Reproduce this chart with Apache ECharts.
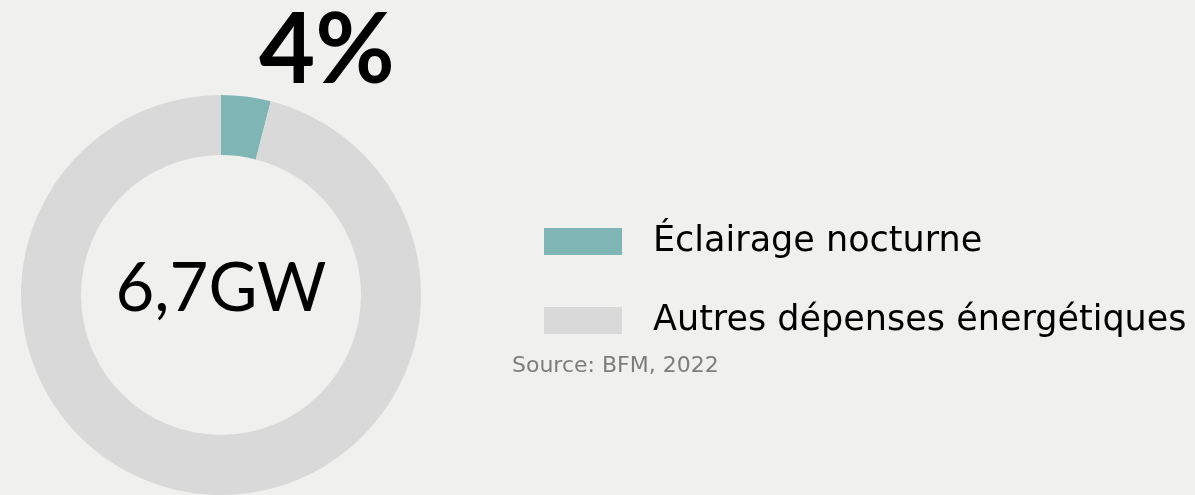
<!DOCTYPE html>
<html>
<head>
    <meta charset="utf-8">
    <title>Éclairage nocturne</title>
    <script src="https://cdn.jsdelivr.net/npm/echarts@6/dist/echarts.min.js"></script>
    <style>
        html, body { margin: 0; padding: 0; background: #f0f0ef; }
        #chart { width: 1195px; height: 495px; }
    </style>
</head>
<body>
<div id="chart"></div>
<script>
  // données
  var categories = ['Éclairage nocturne', 'Autres dépenses énergétiques'];
  var values = [4, 96];
  var colors = ['#7fb5b5', '#d9d9d9'];
  var centerText = '6,7GW';
  var shareText = '4%';
  var sourceText = 'Source: BFM, 2022';

  var myChart = echarts.init(document.getElementById('chart'));
  var font = '"DejaVu Sans", "Open Sans", sans-serif';

  myChart.setOption({
      backgroundColor: '#f0f0ef',
      animation: false,
      color: colors,
      title: [
          {
              text: shareText,
              left: 259, top: 3, padding: 0,
              textStyle: { fontFamily: 'Lato, sans-serif', fontSize: 97, fontWeight: 'bold', color: '#000' }
          },
          {
              text: centerText,
              left: 221, top: 289, textAlign: 'center', textVerticalAlign: 'middle', padding: 0,
              textStyle: { fontFamily: 'Lato, sans-serif', fontSize: 67, fontWeight: 'normal', color: '#000' }
          },
          {
              text: sourceText,
              left: 512, top: 355, padding: 0,
              textStyle: { fontFamily: font, fontSize: 22, fontWeight: 'normal', color: '#7d7d7d' }
          }
      ],
      legend: {
          orient: 'vertical',
          left: 544, top: 224, padding: 0,
          itemWidth: 78, itemHeight: 27,
          itemGap: 44,
          icon: 'rect',
          selectedMode: false,
          data: categories,
          textStyle: { fontFamily: font, fontSize: 35, color: '#000', padding: [0, 0, 0, 26], lineHeight: 27 }
      },
      series: [
          {
              type: 'pie',
              radius: [140, 200],
              center: [221, 295],
              startAngle: 90,
              silent: true,
              label: { show: false },
              labelLine: { show: false },
              data: categories.map(function (c, i) {
                  return { name: c, value: values[i] };
              })
          }
      ]
  });
</script>
</body>
</html>
